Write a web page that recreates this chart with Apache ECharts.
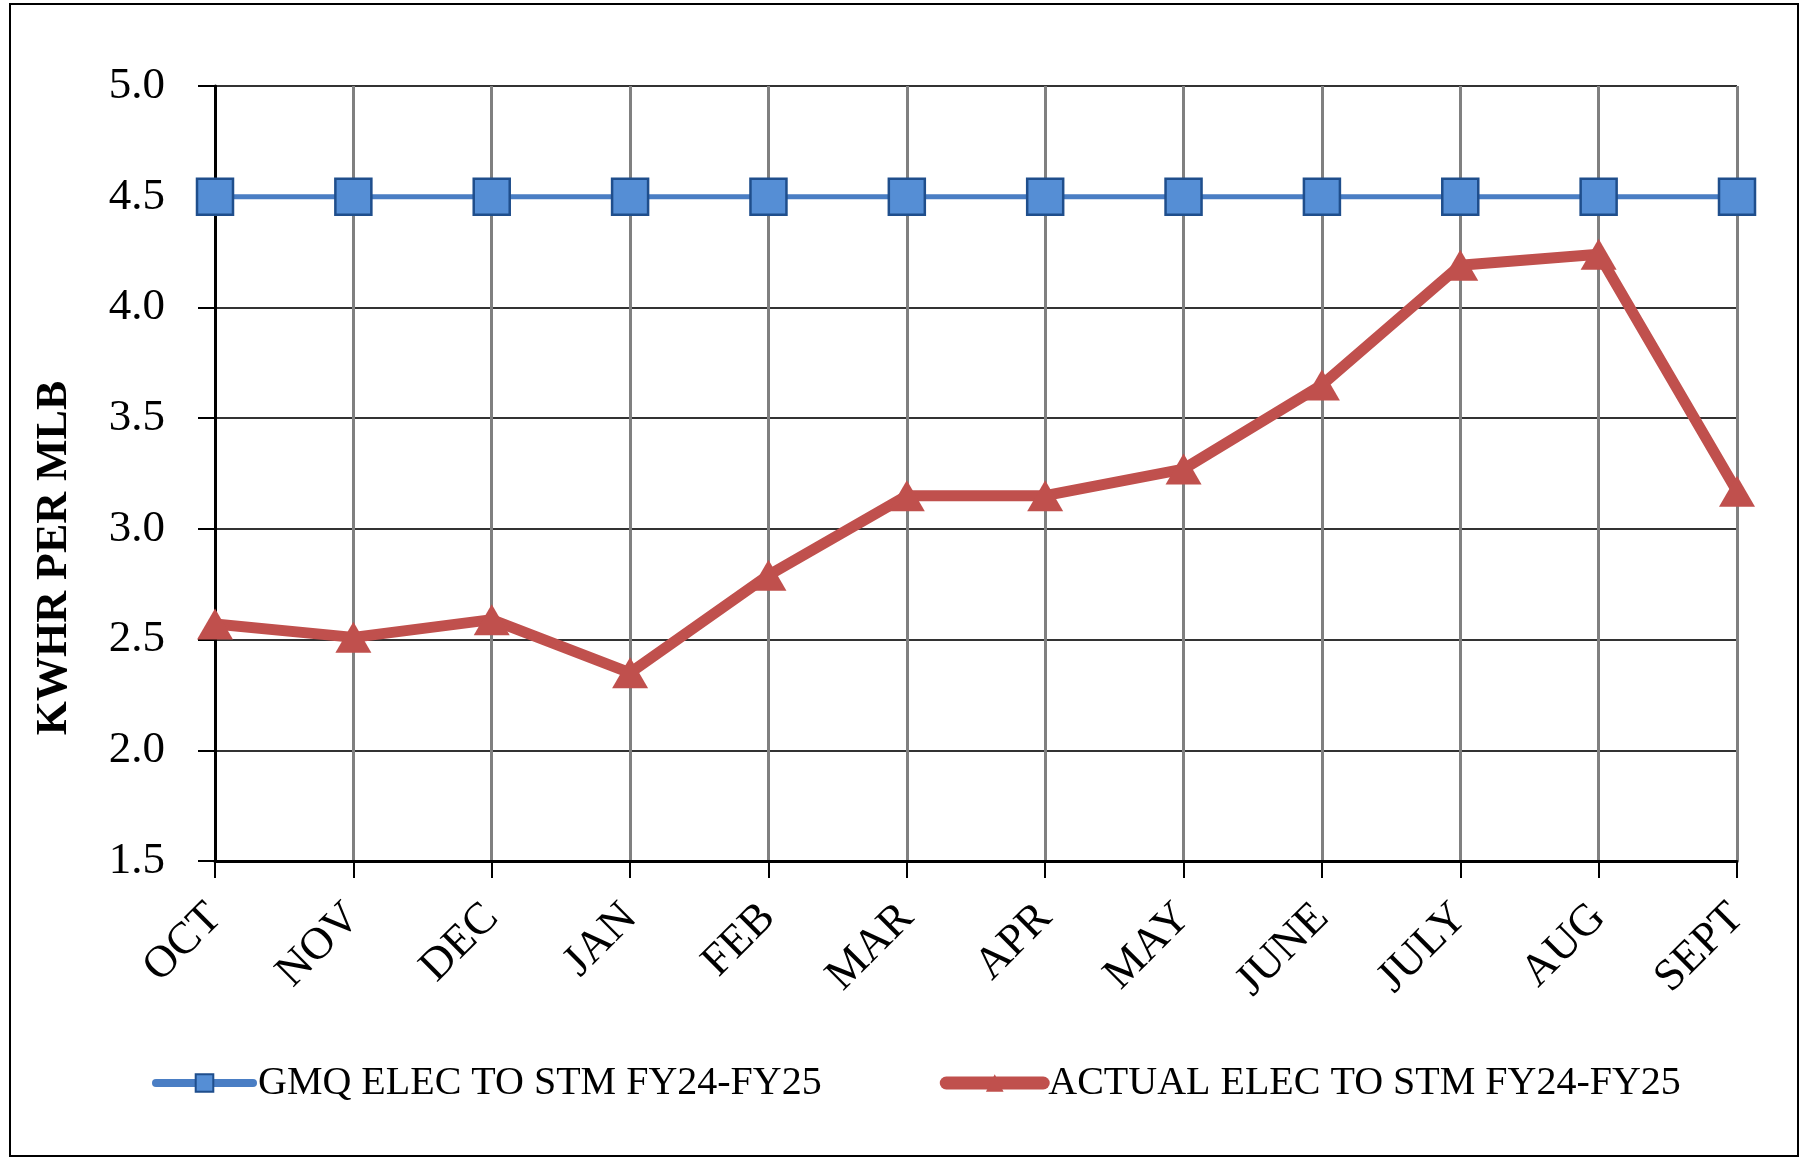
<!DOCTYPE html>
<html>
<head>
<meta charset="utf-8">
<script src="https://cdn.jsdelivr.net/npm/echarts@6/dist/echarts.min.js"></script>
<style>
  html, body { margin: 0; padding: 0; background: #ffffff; }
  #chart { width: 1805px; height: 1160px; }
</style>
</head>
<body>
<div id="chart"></div>
<script>
const categories = ['OCT', 'NOV', 'DEC', 'JAN', 'FEB', 'MAR', 'APR', 'MAY', 'JUNE', 'JULY', 'AUG', 'SEPT'];
const gmqValues = [4.5, 4.5, 4.5, 4.5, 4.5, 4.5, 4.5, 4.5, 4.5, 4.5, 4.5, 4.5];
const actualValues = [2.57, 2.51, 2.59, 2.35, 2.79, 3.15, 3.15, 3.27, 3.65, 4.19, 4.24, 3.17];
const seriesNames = ['GMQ ELEC TO STM FY24-FY25', 'ACTUAL ELEC TO STM FY24-FY25'];
const yAxisTitle = 'KWHR PER MLB';

const font = 'Liberation Serif, Times New Roman, serif';
const chart = echarts.init(document.getElementById('chart'), null, { renderer: 'canvas' });

chart.setOption({
  backgroundColor: '#ffffff',
  animation: false,
  graphic: [
    {
      type: 'rect',
      shape: { x: 10, y: 4, width: 1788, height: 1152 },
      style: { fill: 'none', stroke: '#000000', lineWidth: 2 },
      silent: true
    },
    {
      type: 'text',
      x: 55,
      y: 558,
      rotation: Math.PI / 2,
      style: {
        text: yAxisTitle,
        font: 'bold 44px ' + font,
        fill: '#000000',
        textAlign: 'center',
        textVerticalAlign: 'middle'
      },
      silent: true
    }
  ],
  grid: { left: 215, right: 68, top: 86, bottom: 299, containLabel: false },
  legend: {
    bottom: 52,
    left: 147,
    itemWidth: 97,
    itemHeight: 22,
    itemGap: 118,
    textStyle: { fontFamily: font, fontSize: 40, color: '#000000' },
    data: [
      { name: seriesNames[0], lineStyle: { width: 8, color: '#4A7EC4', cap: 'round' } },
      { name: seriesNames[1], lineStyle: { width: 13, color: '#C0504D', cap: 'round' } }
    ]
  },
  xAxis: {
    type: 'category',
    data: categories,
    boundaryGap: false,
    axisLine: { show: true, lineStyle: { color: '#000000', width: 3 } },
    axisTick: { show: true, alignWithLabel: true, length: 17, lineStyle: { color: '#000000', width: 2 } },
    axisLabel: {
      rotate: 45,
      margin: 50,
      fontFamily: font,
      fontSize: 45,
      color: '#000000',
      interval: 0
    },
    splitLine: { show: true, lineStyle: { color: '#808080', width: 3 } }
  },
  yAxis: {
    type: 'value',
    min: 1.5,
    max: 5.0,
    interval: 0.5,
    axisLine: { show: true, lineStyle: { color: '#000000', width: 3 } },
    axisTick: { show: true, length: 17, lineStyle: { color: '#000000', width: 2 } },
    axisLabel: {
      margin: 50,
      fontFamily: font,
      fontSize: 45,
      color: '#000000',
      formatter: v => v.toFixed(1)
    },
    splitLine: { show: true, lineStyle: { color: '#333333', width: 2 } }
  },
  series: [
    {
      name: seriesNames[0],
      type: 'line',
      data: gmqValues,
      symbol: 'rect',
      symbolSize: 36,
      lineStyle: { color: '#4A7EC4', width: 5 },
      itemStyle: { color: '#558ED5', borderColor: '#1F4E8C', borderWidth: 2.5 },
      z: 2
    },
    {
      name: seriesNames[1],
      type: 'line',
      data: actualValues,
      symbol: 'triangle',
      symbolSize: [36, 31],
      lineStyle: { color: '#C0504D', width: 11 },
      itemStyle: { color: '#C0504D', borderColor: '#C0504D', borderWidth: 0 },
      z: 3
    }
  ]
});
</script>
</body>
</html>
